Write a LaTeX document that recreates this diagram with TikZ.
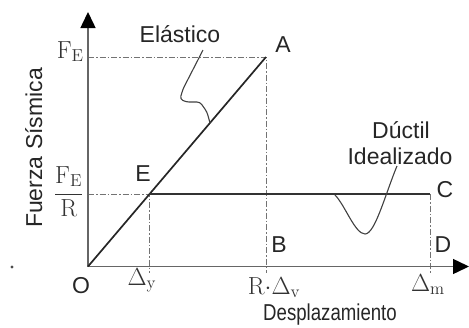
\RequirePackage{fix-cm}
\documentclass[tikz,border=0pt]{standalone}
\usepackage{fontspec}
\setsansfont{Liberation Sans}
\usetikzlibrary{arrows.meta}
\begin{document}
\begin{tikzpicture}[x=1pt,y=-1pt,
  axis/.style={draw=black!60, line width=1.5pt, -{Triangle[width=15pt,length=16pt,fill=black,color=black]}},
  guide/.style={draw=black!55, line width=1pt, dash pattern=on 6pt off 2pt on 1.5pt off 2pt},
  elast/.style={draw=black!85, line width=1.7pt},
  duct/.style={draw=black!80, line width=2.8pt},
  leader/.style={draw=black!75, line width=1.1pt},
  lbl/.style={font=\fontsize{23}{27}\selectfont\sffamily, text=black!85, inner sep=0pt},
  mlbl/.style={font=\fontsize{19}{22}\selectfont, text=black!80, inner sep=0pt}]
\useasboundingbox (0,0) rectangle (469,327);
% key points
\coordinate (O) at (88,266.5);
\coordinate (ytop) at (88,12);
\coordinate (xend) at (469,266.5);
\coordinate (A) at (266,57);
\coordinate (E) at (149,194);
\coordinate (C) at (430,194);
\coordinate (FEy) at (88,57);
\coordinate (FRy) at (88,194);
\coordinate (Bb) at (266,273);
\coordinate (Ey) at (149,273);
\coordinate (Dd) at (430,273);
\coordinate (elStart) at (203,50);
\coordinate (elTip) at (210,123);
\coordinate (duTip) at (335,195);
\coordinate (duStart) at (397,166);
% guides
\draw[guide] (FEy) -- (A) -- (Bb);
\draw[guide] (FRy) -- (E) -- (Ey);
\draw[guide] (C) -- (Dd);
% axes
\draw[axis] (O) -- (ytop);
\draw[axis] (O) -- (xend);
% curves
\draw[elast] (O) -- (A);
\draw[duct] (E) -- (C);
% leaders
\draw[leader, rounded corners=3pt] (elStart) -- (183,89) -- (180,99) -- (186,102) -- (200,102) -- (207,112) -- (elTip);
\draw[leader] (duTip) .. controls (345,205) and (355,234) .. (365,234) .. controls (375,234) and (385,195) .. (duStart);
% stray mark
\fill[black!70] (12,267) circle (1.6);
% point labels
\node[lbl] (lA) at (283,45) {A};
\node[lbl] (lE) at (143,174) {E};
\node[lbl] (lC) at (445,190) {C};
\node[lbl] (lB) at (279,245) {B};
\node[lbl] (lD) at (443,245) {D};
\node[lbl] (lO) at (81,286) {O};
% text labels
\node[lbl, anchor=base] (lel) at (180,42) {Elástico};
\node[lbl, anchor=base] (ldu) at (401,138) {Dúctil};
\node[lbl, anchor=base] (lid) at (400,164) {Idealizado};
\node[lbl, anchor=base] (ldes) at (330,320) {\scalebox{0.81}[1]{Desplazamiento}};
\node[lbl, anchor=base, rotate=90] (lfs) at (42,148) {Fuerza Sísmica};
% math labels
\node[mlbl, anchor=base east] (lFE) at (84,58) {\scalebox{1.3}{$\mathrm{F}_{\mathrm{E}}$}};
\node[mlbl, anchor=base east] (lFR) at (84,200) {\scalebox{1.3}{$\displaystyle\frac{\mathrm{F}_{\mathrm{E}}}{\mathrm{R}}$}};
\node[mlbl, anchor=base] (ldy) at (142,285) {\scalebox{1.3}{$\Delta_{\mathrm{y}}$}};
\node[mlbl, anchor=base] (ldv) at (274,294) {\scalebox{1.3}{$\mathrm{R}{\cdot}\Delta_{\mathrm{v}}$}};
\node[mlbl, anchor=base] (ldm) at (428,291) {\scalebox{1.3}{$\Delta_{\mathrm{m}}$}};
\end{tikzpicture}
\end{document}
